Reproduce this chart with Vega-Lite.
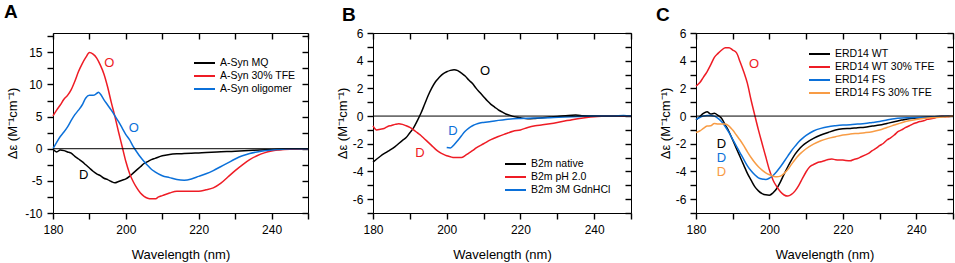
{
  "$schema": "https://vega.github.io/schema/vega-lite/v6.json",
  "background": "white",
  "padding": {"left": 3, "top": 2, "right": 3, "bottom": 2},
  "spacing": 65,
  "bounds": "flush",
  "resolve": {"scale": {"color": "independent"}, "legend": {"color": "independent"}},
  "config": {
    "font": "Liberation Sans",
    "view": {"stroke": "black", "strokeWidth": 1},
    "axis": {
      "domain": false, "grid": false, "ticks": true, "tickColor": "black", "tickOpacity": 1, "tickSize": 6, "tickWidth": 1.4,
      "labelFont": "Liberation Sans", "labelFontSize": 12, "labelColor": "black",
      "titleFont": "Liberation Sans", "titleFontSize": 13, "titleFontWeight": "normal", "titleColor": "black",
      "labelFlush": false, "labelOverlap": false
    },
    "legend": {
      "orient": "none", "title": null, "symbolType": "stroke", "symbolSize": 441, "symbolStrokeWidth": 2,
      "labelFont": "Liberation Sans", "labelFontSize": 10.5, "labelColor": "black", "clipHeight": 11,
      "rowPadding": 2, "labelOffset": 4, "padding": 0
    },
    "title": {"font": "Liberation Sans", "fontSize": 19, "fontWeight": "bold", "color": "black", "anchor": "start", "frame": "group"}
  },
  "datasets": {
    "a": [
      {"s":"A-Syn MQ","w":180,"v":-0.1},{"s":"A-Syn MQ","w":181,"v":-0.5},{"s":"A-Syn MQ","w":182,"v":-0.2},{"s":"A-Syn MQ","w":183,"v":-0.3},{"s":"A-Syn MQ","w":184,"v":-0.5},{"s":"A-Syn MQ","w":185,"v":-0.7},{"s":"A-Syn MQ","w":186,"v":-1.2},{"s":"A-Syn MQ","w":187,"v":-1.6},{"s":"A-Syn MQ","w":188,"v":-2.0},{"s":"A-Syn MQ","w":189,"v":-2.5},{"s":"A-Syn MQ","w":190,"v":-3.0},{"s":"A-Syn MQ","w":191,"v":-3.5},{"s":"A-Syn MQ","w":192,"v":-3.9},{"s":"A-Syn MQ","w":193,"v":-4.2},{"s":"A-Syn MQ","w":194,"v":-4.6},{"s":"A-Syn MQ","w":195,"v":-4.8},{"s":"A-Syn MQ","w":196,"v":-5.1},{"s":"A-Syn MQ","w":197,"v":-5.3},{"s":"A-Syn MQ","w":198,"v":-5.1},{"s":"A-Syn MQ","w":199,"v":-4.9},{"s":"A-Syn MQ","w":200,"v":-4.7},{"s":"A-Syn MQ","w":201,"v":-4.3},{"s":"A-Syn MQ","w":202,"v":-3.8},{"s":"A-Syn MQ","w":203,"v":-3.3},{"s":"A-Syn MQ","w":204,"v":-2.8},{"s":"A-Syn MQ","w":205,"v":-2.3},{"s":"A-Syn MQ","w":206,"v":-2.0},{"s":"A-Syn MQ","w":207,"v":-1.7},{"s":"A-Syn MQ","w":208,"v":-1.5},{"s":"A-Syn MQ","w":210,"v":-1.1},{"s":"A-Syn MQ","w":212,"v":-0.9},{"s":"A-Syn MQ","w":214,"v":-0.8},{"s":"A-Syn MQ","w":216,"v":-0.75},{"s":"A-Syn MQ","w":218,"v":-0.7},{"s":"A-Syn MQ","w":220,"v":-0.65},{"s":"A-Syn MQ","w":222,"v":-0.6},{"s":"A-Syn MQ","w":225,"v":-0.5},{"s":"A-Syn MQ","w":230,"v":-0.4},{"s":"A-Syn MQ","w":235,"v":-0.25},{"s":"A-Syn MQ","w":240,"v":-0.15},{"s":"A-Syn MQ","w":245,"v":-0.05},{"s":"A-Syn MQ","w":250,"v":0},
      {"s":"A-Syn 30% TFE","w":180,"v":5.1},{"s":"A-Syn 30% TFE","w":181,"v":6.0},{"s":"A-Syn 30% TFE","w":182,"v":6.8},{"s":"A-Syn 30% TFE","w":183,"v":7.7},{"s":"A-Syn 30% TFE","w":184,"v":8.3},{"s":"A-Syn 30% TFE","w":185,"v":9.2},{"s":"A-Syn 30% TFE","w":186,"v":10.5},{"s":"A-Syn 30% TFE","w":187,"v":12.0},{"s":"A-Syn 30% TFE","w":188,"v":13.2},{"s":"A-Syn 30% TFE","w":189,"v":14.2},{"s":"A-Syn 30% TFE","w":190,"v":14.95},{"s":"A-Syn 30% TFE","w":191,"v":14.7},{"s":"A-Syn 30% TFE","w":192,"v":14.1},{"s":"A-Syn 30% TFE","w":193,"v":13.0},{"s":"A-Syn 30% TFE","w":194,"v":11.6},{"s":"A-Syn 30% TFE","w":195,"v":9.6},{"s":"A-Syn 30% TFE","w":196,"v":7.2},{"s":"A-Syn 30% TFE","w":197,"v":5.0},{"s":"A-Syn 30% TFE","w":198,"v":2.6},{"s":"A-Syn 30% TFE","w":199,"v":0.3},{"s":"A-Syn 30% TFE","w":200,"v":-2.0},{"s":"A-Syn 30% TFE","w":201,"v":-3.8},{"s":"A-Syn 30% TFE","w":202,"v":-5.1},{"s":"A-Syn 30% TFE","w":203,"v":-6.1},{"s":"A-Syn 30% TFE","w":204,"v":-6.9},{"s":"A-Syn 30% TFE","w":205,"v":-7.4},{"s":"A-Syn 30% TFE","w":206,"v":-7.7},{"s":"A-Syn 30% TFE","w":207,"v":-7.8},{"s":"A-Syn 30% TFE","w":208,"v":-7.8},{"s":"A-Syn 30% TFE","w":209,"v":-7.5},{"s":"A-Syn 30% TFE","w":210,"v":-7.3},{"s":"A-Syn 30% TFE","w":212,"v":-6.9},{"s":"A-Syn 30% TFE","w":214,"v":-6.6},{"s":"A-Syn 30% TFE","w":216,"v":-6.6},{"s":"A-Syn 30% TFE","w":218,"v":-6.6},{"s":"A-Syn 30% TFE","w":220,"v":-6.6},{"s":"A-Syn 30% TFE","w":222,"v":-6.4},{"s":"A-Syn 30% TFE","w":224,"v":-6.1},{"s":"A-Syn 30% TFE","w":226,"v":-5.4},{"s":"A-Syn 30% TFE","w":228,"v":-4.4},{"s":"A-Syn 30% TFE","w":230,"v":-3.4},{"s":"A-Syn 30% TFE","w":232,"v":-2.5},{"s":"A-Syn 30% TFE","w":234,"v":-1.7},{"s":"A-Syn 30% TFE","w":236,"v":-1.1},{"s":"A-Syn 30% TFE","w":238,"v":-0.65},{"s":"A-Syn 30% TFE","w":240,"v":-0.35},{"s":"A-Syn 30% TFE","w":242,"v":-0.2},{"s":"A-Syn 30% TFE","w":245,"v":-0.07},{"s":"A-Syn 30% TFE","w":250,"v":0},
      {"s":"A-Syn oligomer","w":180,"v":0},{"s":"A-Syn oligomer","w":181,"v":1.0},{"s":"A-Syn oligomer","w":182,"v":1.9},{"s":"A-Syn oligomer","w":183,"v":2.6},{"s":"A-Syn oligomer","w":184,"v":3.4},{"s":"A-Syn oligomer","w":185,"v":4.4},{"s":"A-Syn oligomer","w":186,"v":5.3},{"s":"A-Syn oligomer","w":187,"v":6.0},{"s":"A-Syn oligomer","w":188,"v":6.8},{"s":"A-Syn oligomer","w":189,"v":7.9},{"s":"A-Syn oligomer","w":190,"v":8.3},{"s":"A-Syn oligomer","w":191,"v":8.3},{"s":"A-Syn oligomer","w":192,"v":8.6},{"s":"A-Syn oligomer","w":192.5,"v":8.8},{"s":"A-Syn oligomer","w":193,"v":8.5},{"s":"A-Syn oligomer","w":194,"v":7.6},{"s":"A-Syn oligomer","w":195,"v":6.8},{"s":"A-Syn oligomer","w":196,"v":6.0},{"s":"A-Syn oligomer","w":197,"v":5.1},{"s":"A-Syn oligomer","w":198,"v":4.2},{"s":"A-Syn oligomer","w":199,"v":3.2},{"s":"A-Syn oligomer","w":200,"v":2.2},{"s":"A-Syn oligomer","w":201,"v":1.4},{"s":"A-Syn oligomer","w":202,"v":0.35},{"s":"A-Syn oligomer","w":203,"v":-0.5},{"s":"A-Syn oligomer","w":204,"v":-1.3},{"s":"A-Syn oligomer","w":205,"v":-2.0},{"s":"A-Syn oligomer","w":206,"v":-2.6},{"s":"A-Syn oligomer","w":207,"v":-3.2},{"s":"A-Syn oligomer","w":208,"v":-3.6},{"s":"A-Syn oligomer","w":210,"v":-4.2},{"s":"A-Syn oligomer","w":212,"v":-4.5},{"s":"A-Syn oligomer","w":214,"v":-4.8},{"s":"A-Syn oligomer","w":216,"v":-4.9},{"s":"A-Syn oligomer","w":218,"v":-4.7},{"s":"A-Syn oligomer","w":220,"v":-4.3},{"s":"A-Syn oligomer","w":222,"v":-3.9},{"s":"A-Syn oligomer","w":224,"v":-3.4},{"s":"A-Syn oligomer","w":226,"v":-2.8},{"s":"A-Syn oligomer","w":228,"v":-2.2},{"s":"A-Syn oligomer","w":230,"v":-1.6},{"s":"A-Syn oligomer","w":232,"v":-1.1},{"s":"A-Syn oligomer","w":234,"v":-0.75},{"s":"A-Syn oligomer","w":236,"v":-0.5},{"s":"A-Syn oligomer","w":238,"v":-0.3},{"s":"A-Syn oligomer","w":240,"v":-0.2},{"s":"A-Syn oligomer","w":243,"v":-0.08},{"s":"A-Syn oligomer","w":246,"v":0},{"s":"A-Syn oligomer","w":250,"v":0}
    ],
    "a_t": [
      {"s":"A-Syn 30% TFE","w":195.45,"v":13.4,"t":"O"},
      {"s":"A-Syn oligomer","w":202.15,"v":3.2,"t":"O"},
      {"s":"A-Syn MQ","w":188.4,"v":-4.1,"t":"D"}
    ],
    "b": [
      {"s":"B2m native","w":180,"v":-3.33},{"s":"B2m native","w":182,"v":-2.9},{"s":"B2m native","w":184,"v":-2.55},{"s":"B2m native","w":186,"v":-2.2},{"s":"B2m native","w":188,"v":-1.75},{"s":"B2m native","w":189,"v":-1.55},{"s":"B2m native","w":190,"v":-1.2},{"s":"B2m native","w":191,"v":-0.85},{"s":"B2m native","w":192,"v":-0.35},{"s":"B2m native","w":193,"v":0.2},{"s":"B2m native","w":194,"v":0.85},{"s":"B2m native","w":195,"v":1.5},{"s":"B2m native","w":196,"v":2.05},{"s":"B2m native","w":197,"v":2.5},{"s":"B2m native","w":198,"v":2.8},{"s":"B2m native","w":199,"v":3.05},{"s":"B2m native","w":200,"v":3.2},{"s":"B2m native","w":201,"v":3.3},{"s":"B2m native","w":202,"v":3.35},{"s":"B2m native","w":203,"v":3.28},{"s":"B2m native","w":204,"v":3.1},{"s":"B2m native","w":205,"v":2.9},{"s":"B2m native","w":206,"v":2.6},{"s":"B2m native","w":207,"v":2.35},{"s":"B2m native","w":208,"v":2.0},{"s":"B2m native","w":209,"v":1.7},{"s":"B2m native","w":210,"v":1.4},{"s":"B2m native","w":211,"v":1.1},{"s":"B2m native","w":212,"v":0.85},{"s":"B2m native","w":213,"v":0.65},{"s":"B2m native","w":214,"v":0.45},{"s":"B2m native","w":215,"v":0.3},{"s":"B2m native","w":216,"v":0.15},{"s":"B2m native","w":217,"v":0.07},{"s":"B2m native","w":218,"v":-0.02},{"s":"B2m native","w":220,"v":-0.12},{"s":"B2m native","w":222,"v":-0.2},{"s":"B2m native","w":224,"v":-0.17},{"s":"B2m native","w":226,"v":-0.12},{"s":"B2m native","w":228,"v":-0.07},{"s":"B2m native","w":230,"v":-0.03},{"s":"B2m native","w":233,"v":0.05},{"s":"B2m native","w":235,"v":0.07},{"s":"B2m native","w":237,"v":0.03},{"s":"B2m native","w":240,"v":0},{"s":"B2m native","w":245,"v":0},{"s":"B2m native","w":250,"v":0},
      {"s":"B2m pH 2.0","w":180,"v":-0.7},{"s":"B2m pH 2.0","w":181,"v":-1.0},{"s":"B2m pH 2.0","w":182,"v":-0.95},{"s":"B2m pH 2.0","w":183,"v":-0.9},{"s":"B2m pH 2.0","w":184,"v":-0.75},{"s":"B2m pH 2.0","w":185,"v":-0.68},{"s":"B2m pH 2.0","w":186,"v":-0.6},{"s":"B2m pH 2.0","w":187,"v":-0.55},{"s":"B2m pH 2.0","w":188,"v":-0.6},{"s":"B2m pH 2.0","w":189,"v":-0.7},{"s":"B2m pH 2.0","w":190,"v":-0.82},{"s":"B2m pH 2.0","w":191,"v":-1.0},{"s":"B2m pH 2.0","w":192,"v":-1.2},{"s":"B2m pH 2.0","w":193,"v":-1.4},{"s":"B2m pH 2.0","w":194,"v":-1.65},{"s":"B2m pH 2.0","w":195,"v":-1.9},{"s":"B2m pH 2.0","w":196,"v":-2.15},{"s":"B2m pH 2.0","w":197,"v":-2.4},{"s":"B2m pH 2.0","w":198,"v":-2.6},{"s":"B2m pH 2.0","w":199,"v":-2.75},{"s":"B2m pH 2.0","w":200,"v":-2.87},{"s":"B2m pH 2.0","w":201,"v":-2.94},{"s":"B2m pH 2.0","w":202,"v":-3.0},{"s":"B2m pH 2.0","w":203,"v":-3.0},{"s":"B2m pH 2.0","w":204,"v":-3.0},{"s":"B2m pH 2.0","w":205,"v":-2.85},{"s":"B2m pH 2.0","w":206,"v":-2.67},{"s":"B2m pH 2.0","w":207,"v":-2.5},{"s":"B2m pH 2.0","w":208,"v":-2.3},{"s":"B2m pH 2.0","w":210,"v":-2.0},{"s":"B2m pH 2.0","w":212,"v":-1.7},{"s":"B2m pH 2.0","w":214,"v":-1.47},{"s":"B2m pH 2.0","w":216,"v":-1.28},{"s":"B2m pH 2.0","w":218,"v":-1.1},{"s":"B2m pH 2.0","w":220,"v":-1.0},{"s":"B2m pH 2.0","w":222,"v":-0.82},{"s":"B2m pH 2.0","w":224,"v":-0.7},{"s":"B2m pH 2.0","w":226,"v":-0.63},{"s":"B2m pH 2.0","w":228,"v":-0.55},{"s":"B2m pH 2.0","w":230,"v":-0.46},{"s":"B2m pH 2.0","w":232,"v":-0.36},{"s":"B2m pH 2.0","w":234,"v":-0.26},{"s":"B2m pH 2.0","w":236,"v":-0.17},{"s":"B2m pH 2.0","w":238,"v":-0.1},{"s":"B2m pH 2.0","w":240,"v":-0.05},{"s":"B2m pH 2.0","w":242,"v":-0.02},{"s":"B2m pH 2.0","w":245,"v":0},{"s":"B2m pH 2.0","w":250,"v":0},
      {"s":"B2m 3M GdnHCl","w":200,"v":-2.27},{"s":"B2m 3M GdnHCl","w":201,"v":-2.3},{"s":"B2m 3M GdnHCl","w":202,"v":-2.07},{"s":"B2m 3M GdnHCl","w":203,"v":-1.76},{"s":"B2m 3M GdnHCl","w":204,"v":-1.42},{"s":"B2m 3M GdnHCl","w":205,"v":-1.1},{"s":"B2m 3M GdnHCl","w":206,"v":-0.87},{"s":"B2m 3M GdnHCl","w":207,"v":-0.7},{"s":"B2m 3M GdnHCl","w":208,"v":-0.58},{"s":"B2m 3M GdnHCl","w":209,"v":-0.5},{"s":"B2m 3M GdnHCl","w":210,"v":-0.46},{"s":"B2m 3M GdnHCl","w":212,"v":-0.39},{"s":"B2m 3M GdnHCl","w":214,"v":-0.31},{"s":"B2m 3M GdnHCl","w":216,"v":-0.24},{"s":"B2m 3M GdnHCl","w":218,"v":-0.19},{"s":"B2m 3M GdnHCl","w":220,"v":-0.17},{"s":"B2m 3M GdnHCl","w":224,"v":-0.14},{"s":"B2m 3M GdnHCl","w":228,"v":-0.12},{"s":"B2m 3M GdnHCl","w":232,"v":-0.07},{"s":"B2m 3M GdnHCl","w":236,"v":-0.03},{"s":"B2m 3M GdnHCl","w":240,"v":0},{"s":"B2m 3M GdnHCl","w":245,"v":0},{"s":"B2m 3M GdnHCl","w":248,"v":0.05},{"s":"B2m 3M GdnHCl","w":250,"v":0}
    ],
    "b_t": [
      {"s":"B2m native","w":210.4,"v":3.26,"t":"O"},
      {"s":"B2m 3M GdnHCl","w":201.7,"v":-1.05,"t":"D"},
      {"s":"B2m pH 2.0","w":192.75,"v":-2.69,"t":"D"}
    ],
    "c": [
      {"s":"ERD14 WT","w":180,"v":-0.29},{"s":"ERD14 WT","w":181,"v":-0.05},{"s":"ERD14 WT","w":182,"v":0.19},{"s":"ERD14 WT","w":183,"v":0.31},{"s":"ERD14 WT","w":184,"v":0.15},{"s":"ERD14 WT","w":185,"v":0.2},{"s":"ERD14 WT","w":186,"v":0.05},{"s":"ERD14 WT","w":187,"v":-0.17},{"s":"ERD14 WT","w":188,"v":-0.65},{"s":"ERD14 WT","w":189,"v":-1.13},{"s":"ERD14 WT","w":190,"v":-1.73},{"s":"ERD14 WT","w":191,"v":-2.34},{"s":"ERD14 WT","w":192,"v":-2.94},{"s":"ERD14 WT","w":193,"v":-3.54},{"s":"ERD14 WT","w":194,"v":-4.14},{"s":"ERD14 WT","w":195,"v":-4.63},{"s":"ERD14 WT","w":196,"v":-5.1},{"s":"ERD14 WT","w":197,"v":-5.4},{"s":"ERD14 WT","w":198,"v":-5.6},{"s":"ERD14 WT","w":199,"v":-5.69},{"s":"ERD14 WT","w":200,"v":-5.71},{"s":"ERD14 WT","w":201,"v":-5.54},{"s":"ERD14 WT","w":202,"v":-5.23},{"s":"ERD14 WT","w":203,"v":-4.75},{"s":"ERD14 WT","w":204,"v":-4.19},{"s":"ERD14 WT","w":205,"v":-3.66},{"s":"ERD14 WT","w":206,"v":-3.18},{"s":"ERD14 WT","w":207,"v":-2.75},{"s":"ERD14 WT","w":208,"v":-2.41},{"s":"ERD14 WT","w":209,"v":-2.14},{"s":"ERD14 WT","w":210,"v":-1.93},{"s":"ERD14 WT","w":212,"v":-1.61},{"s":"ERD14 WT","w":214,"v":-1.37},{"s":"ERD14 WT","w":216,"v":-1.18},{"s":"ERD14 WT","w":218,"v":-1.01},{"s":"ERD14 WT","w":220,"v":-0.92},{"s":"ERD14 WT","w":222,"v":-0.89},{"s":"ERD14 WT","w":224,"v":-0.84},{"s":"ERD14 WT","w":226,"v":-0.8},{"s":"ERD14 WT","w":228,"v":-0.72},{"s":"ERD14 WT","w":230,"v":-0.65},{"s":"ERD14 WT","w":232,"v":-0.53},{"s":"ERD14 WT","w":234,"v":-0.41},{"s":"ERD14 WT","w":236,"v":-0.29},{"s":"ERD14 WT","w":238,"v":-0.19},{"s":"ERD14 WT","w":240,"v":-0.14},{"s":"ERD14 WT","w":242,"v":-0.1},{"s":"ERD14 WT","w":245,"v":-0.05},{"s":"ERD14 WT","w":250,"v":0},
      {"s":"ERD14 WT 30% TFE","w":180,"v":2.17},{"s":"ERD14 WT 30% TFE","w":181,"v":2.4},{"s":"ERD14 WT 30% TFE","w":182,"v":2.8},{"s":"ERD14 WT 30% TFE","w":183,"v":3.2},{"s":"ERD14 WT 30% TFE","w":184,"v":3.7},{"s":"ERD14 WT 30% TFE","w":185,"v":4.24},{"s":"ERD14 WT 30% TFE","w":186,"v":4.53},{"s":"ERD14 WT 30% TFE","w":187,"v":4.77},{"s":"ERD14 WT 30% TFE","w":188,"v":4.94},{"s":"ERD14 WT 30% TFE","w":189,"v":4.94},{"s":"ERD14 WT 30% TFE","w":190,"v":4.77},{"s":"ERD14 WT 30% TFE","w":191,"v":4.58},{"s":"ERD14 WT 30% TFE","w":192,"v":3.93},{"s":"ERD14 WT 30% TFE","w":193,"v":3.2},{"s":"ERD14 WT 30% TFE","w":194,"v":2.36},{"s":"ERD14 WT 30% TFE","w":195,"v":1.16},{"s":"ERD14 WT 30% TFE","w":196,"v":0.07},{"s":"ERD14 WT 30% TFE","w":197,"v":-1.0},{"s":"ERD14 WT 30% TFE","w":198,"v":-1.98},{"s":"ERD14 WT 30% TFE","w":199,"v":-2.94},{"s":"ERD14 WT 30% TFE","w":200,"v":-3.9},{"s":"ERD14 WT 30% TFE","w":201,"v":-4.63},{"s":"ERD14 WT 30% TFE","w":202,"v":-5.1},{"s":"ERD14 WT 30% TFE","w":203,"v":-5.47},{"s":"ERD14 WT 30% TFE","w":204,"v":-5.7},{"s":"ERD14 WT 30% TFE","w":205,"v":-5.78},{"s":"ERD14 WT 30% TFE","w":206,"v":-5.66},{"s":"ERD14 WT 30% TFE","w":207,"v":-5.4},{"s":"ERD14 WT 30% TFE","w":208,"v":-5.0},{"s":"ERD14 WT 30% TFE","w":209,"v":-4.5},{"s":"ERD14 WT 30% TFE","w":210,"v":-4.02},{"s":"ERD14 WT 30% TFE","w":211,"v":-3.66},{"s":"ERD14 WT 30% TFE","w":212,"v":-3.5},{"s":"ERD14 WT 30% TFE","w":213,"v":-3.37},{"s":"ERD14 WT 30% TFE","w":214,"v":-3.3},{"s":"ERD14 WT 30% TFE","w":215,"v":-3.23},{"s":"ERD14 WT 30% TFE","w":216,"v":-3.13},{"s":"ERD14 WT 30% TFE","w":217,"v":-3.1},{"s":"ERD14 WT 30% TFE","w":218,"v":-3.15},{"s":"ERD14 WT 30% TFE","w":220,"v":-3.18},{"s":"ERD14 WT 30% TFE","w":222,"v":-3.23},{"s":"ERD14 WT 30% TFE","w":223,"v":-3.13},{"s":"ERD14 WT 30% TFE","w":224,"v":-3.06},{"s":"ERD14 WT 30% TFE","w":225,"v":-2.94},{"s":"ERD14 WT 30% TFE","w":226,"v":-2.82},{"s":"ERD14 WT 30% TFE","w":227,"v":-2.7},{"s":"ERD14 WT 30% TFE","w":228,"v":-2.5},{"s":"ERD14 WT 30% TFE","w":229,"v":-2.34},{"s":"ERD14 WT 30% TFE","w":230,"v":-2.14},{"s":"ERD14 WT 30% TFE","w":231,"v":-1.98},{"s":"ERD14 WT 30% TFE","w":232,"v":-1.73},{"s":"ERD14 WT 30% TFE","w":233,"v":-1.57},{"s":"ERD14 WT 30% TFE","w":234,"v":-1.37},{"s":"ERD14 WT 30% TFE","w":235,"v":-1.13},{"s":"ERD14 WT 30% TFE","w":236,"v":-1.0},{"s":"ERD14 WT 30% TFE","w":237,"v":-0.84},{"s":"ERD14 WT 30% TFE","w":238,"v":-0.72},{"s":"ERD14 WT 30% TFE","w":239,"v":-0.58},{"s":"ERD14 WT 30% TFE","w":240,"v":-0.48},{"s":"ERD14 WT 30% TFE","w":241,"v":-0.39},{"s":"ERD14 WT 30% TFE","w":242,"v":-0.34},{"s":"ERD14 WT 30% TFE","w":243,"v":-0.24},{"s":"ERD14 WT 30% TFE","w":244,"v":-0.19},{"s":"ERD14 WT 30% TFE","w":245,"v":-0.14},{"s":"ERD14 WT 30% TFE","w":246,"v":-0.05},{"s":"ERD14 WT 30% TFE","w":247,"v":-0.02},{"s":"ERD14 WT 30% TFE","w":248,"v":-0.05},{"s":"ERD14 WT 30% TFE","w":250,"v":0},
      {"s":"ERD14 FS","w":180,"v":-0.24},{"s":"ERD14 FS","w":181,"v":-0.1},{"s":"ERD14 FS","w":182,"v":0},{"s":"ERD14 FS","w":183,"v":0.05},{"s":"ERD14 FS","w":184,"v":0.05},{"s":"ERD14 FS","w":185,"v":0},{"s":"ERD14 FS","w":186,"v":-0.17},{"s":"ERD14 FS","w":187,"v":-0.41},{"s":"ERD14 FS","w":188,"v":-0.77},{"s":"ERD14 FS","w":189,"v":-1.2},{"s":"ERD14 FS","w":190,"v":-1.69},{"s":"ERD14 FS","w":191,"v":-2.17},{"s":"ERD14 FS","w":192,"v":-2.65},{"s":"ERD14 FS","w":193,"v":-3.13},{"s":"ERD14 FS","w":194,"v":-3.59},{"s":"ERD14 FS","w":195,"v":-3.95},{"s":"ERD14 FS","w":196,"v":-4.24},{"s":"ERD14 FS","w":197,"v":-4.46},{"s":"ERD14 FS","w":198,"v":-4.55},{"s":"ERD14 FS","w":199,"v":-4.58},{"s":"ERD14 FS","w":200,"v":-4.48},{"s":"ERD14 FS","w":201,"v":-4.29},{"s":"ERD14 FS","w":202,"v":-4.0},{"s":"ERD14 FS","w":203,"v":-3.66},{"s":"ERD14 FS","w":204,"v":-3.28},{"s":"ERD14 FS","w":205,"v":-2.89},{"s":"ERD14 FS","w":206,"v":-2.5},{"s":"ERD14 FS","w":207,"v":-2.17},{"s":"ERD14 FS","w":208,"v":-1.86},{"s":"ERD14 FS","w":209,"v":-1.61},{"s":"ERD14 FS","w":210,"v":-1.4},{"s":"ERD14 FS","w":212,"v":-1.08},{"s":"ERD14 FS","w":214,"v":-0.89},{"s":"ERD14 FS","w":216,"v":-0.77},{"s":"ERD14 FS","w":218,"v":-0.7},{"s":"ERD14 FS","w":220,"v":-0.65},{"s":"ERD14 FS","w":222,"v":-0.63},{"s":"ERD14 FS","w":224,"v":-0.58},{"s":"ERD14 FS","w":226,"v":-0.53},{"s":"ERD14 FS","w":228,"v":-0.46},{"s":"ERD14 FS","w":230,"v":-0.39},{"s":"ERD14 FS","w":232,"v":-0.29},{"s":"ERD14 FS","w":234,"v":-0.19},{"s":"ERD14 FS","w":236,"v":-0.14},{"s":"ERD14 FS","w":238,"v":-0.12},{"s":"ERD14 FS","w":240,"v":-0.1},{"s":"ERD14 FS","w":245,"v":-0.05},{"s":"ERD14 FS","w":250,"v":0},
      {"s":"ERD14 FS 30% TFE","w":180,"v":-1.18},{"s":"ERD14 FS 30% TFE","w":181,"v":-1.08},{"s":"ERD14 FS 30% TFE","w":182,"v":-0.89},{"s":"ERD14 FS 30% TFE","w":183,"v":-0.72},{"s":"ERD14 FS 30% TFE","w":184,"v":-0.7},{"s":"ERD14 FS 30% TFE","w":185,"v":-0.53},{"s":"ERD14 FS 30% TFE","w":186,"v":-0.58},{"s":"ERD14 FS 30% TFE","w":187,"v":-0.58},{"s":"ERD14 FS 30% TFE","w":188,"v":-0.58},{"s":"ERD14 FS 30% TFE","w":189,"v":-0.72},{"s":"ERD14 FS 30% TFE","w":190,"v":-1.01},{"s":"ERD14 FS 30% TFE","w":191,"v":-1.37},{"s":"ERD14 FS 30% TFE","w":192,"v":-1.73},{"s":"ERD14 FS 30% TFE","w":193,"v":-2.14},{"s":"ERD14 FS 30% TFE","w":194,"v":-2.58},{"s":"ERD14 FS 30% TFE","w":195,"v":-2.99},{"s":"ERD14 FS 30% TFE","w":196,"v":-3.35},{"s":"ERD14 FS 30% TFE","w":197,"v":-3.66},{"s":"ERD14 FS 30% TFE","w":198,"v":-3.9},{"s":"ERD14 FS 30% TFE","w":199,"v":-4.1},{"s":"ERD14 FS 30% TFE","w":200,"v":-4.24},{"s":"ERD14 FS 30% TFE","w":201,"v":-4.34},{"s":"ERD14 FS 30% TFE","w":202,"v":-4.39},{"s":"ERD14 FS 30% TFE","w":203,"v":-4.34},{"s":"ERD14 FS 30% TFE","w":204,"v":-4.14},{"s":"ERD14 FS 30% TFE","w":205,"v":-3.86},{"s":"ERD14 FS 30% TFE","w":206,"v":-3.49},{"s":"ERD14 FS 30% TFE","w":207,"v":-3.13},{"s":"ERD14 FS 30% TFE","w":208,"v":-2.82},{"s":"ERD14 FS 30% TFE","w":209,"v":-2.58},{"s":"ERD14 FS 30% TFE","w":210,"v":-2.36},{"s":"ERD14 FS 30% TFE","w":212,"v":-2.02},{"s":"ERD14 FS 30% TFE","w":214,"v":-1.78},{"s":"ERD14 FS 30% TFE","w":216,"v":-1.61},{"s":"ERD14 FS 30% TFE","w":218,"v":-1.49},{"s":"ERD14 FS 30% TFE","w":220,"v":-1.37},{"s":"ERD14 FS 30% TFE","w":222,"v":-1.3},{"s":"ERD14 FS 30% TFE","w":224,"v":-1.25},{"s":"ERD14 FS 30% TFE","w":226,"v":-1.2},{"s":"ERD14 FS 30% TFE","w":228,"v":-1.13},{"s":"ERD14 FS 30% TFE","w":230,"v":-1.01},{"s":"ERD14 FS 30% TFE","w":232,"v":-0.82},{"s":"ERD14 FS 30% TFE","w":234,"v":-0.65},{"s":"ERD14 FS 30% TFE","w":236,"v":-0.48},{"s":"ERD14 FS 30% TFE","w":238,"v":-0.34},{"s":"ERD14 FS 30% TFE","w":240,"v":-0.24},{"s":"ERD14 FS 30% TFE","w":242,"v":-0.17},{"s":"ERD14 FS 30% TFE","w":245,"v":-0.1},{"s":"ERD14 FS 30% TFE","w":248,"v":-0.05},{"s":"ERD14 FS 30% TFE","w":250,"v":0}
    ],
    "c_t": [
      {"s":"ERD14 WT 30% TFE","w":195.8,"v":3.74,"t":"O"},
      {"s":"ERD14 WT","w":186.9,"v":-2.04,"t":"D"},
      {"s":"ERD14 FS","w":186.9,"v":-3.05,"t":"D"},
      {"s":"ERD14 FS 30% TFE","w":186.9,"v":-4.06,"t":"D"}
    ]
  },
  "hconcat": [
    {
      "width": 255, "height": 180,
      "title": {"text": "A", "dx": -49, "offset": 8},
      "resolve": {"axis": {"x": "independent", "y": "independent"}},
      "layer": [
        {
          "data": {"name": "a"},
          "mark": {"type": "line", "strokeWidth": 1.5, "interpolate": "monotone"},
          "encoding": {
            "x": {"field": "w", "type": "quantitative", "scale": {"domain": [180, 250], "nice": false, "zero": false},
              "axis": {"values": [180,190,200,210,220,230,240,250], "labelExpr": "datum.value % 20 == 0 ? '' + datum.value : ''", "title": "Wavelength (nm)", "labelPadding": 5, "titlePadding": 13}},
            "y": {"field": "v", "type": "quantitative", "scale": {"domain": [-10, 18], "nice": false, "zero": false},
              "axis": {"values": [-10,-7.5,-5,-2.5,0,2.5,5,7.5,10,12.5,15,17.5], "labelExpr": "datum.value % 5 == 0 ? '' + datum.value : ''", "title": "Δε (M⁻¹cm⁻¹)", "labelPadding": 5, "titlePadding": 5}},
            "color": {"field": "s", "type": "nominal",
              "scale": {"domain": ["A-Syn MQ", "A-Syn 30% TFE", "A-Syn oligomer"], "range": ["#000000", "#ee1c25", "#0b70d9"]},
              "legend": {"legendX": 140, "legendY": 24.5}}
          }
        },
        {
          "data": {"values": [{}]},
          "mark": {"type": "rule", "color": "black", "strokeWidth": 1},
          "encoding": {
            "x": {"datum": 180, "type": "quantitative", "axis": {"orient": "top", "values": [180,190,200,210,220,230,240,250], "labels": false, "tickSize": -6, "title": null}},
            "x2": {"datum": 250},
            "y": {"datum": 0, "type": "quantitative", "axis": {"orient": "right", "values": [-10,-7.5,-5,-2.5,0,2.5,5,7.5,10,12.5,15,17.5], "labels": false, "tickSize": -6, "title": null}}
          }
        },
        {
          "data": {"name": "a_t"},
          "mark": {"type": "text", "fontSize": 13, "font": "Liberation Sans"},
          "encoding": {
            "x": {"field": "w", "type": "quantitative", "axis": null},
            "y": {"field": "v", "type": "quantitative", "axis": null},
            "text": {"field": "t"},
            "color": {"field": "s", "type": "nominal", "legend": null}
          }
        }
      ]
    },
    {
      "width": 258, "height": 180,
      "title": {"text": "B", "dx": -31, "offset": 2},
      "resolve": {"axis": {"x": "independent", "y": "independent"}},
      "layer": [
        {
          "data": {"name": "b"},
          "mark": {"type": "line", "strokeWidth": 1.5, "interpolate": "monotone"},
          "encoding": {
            "x": {"field": "w", "type": "quantitative", "scale": {"domain": [180, 250], "nice": false, "zero": false},
              "axis": {"values": [180,190,200,210,220,230,240,250], "labelExpr": "datum.value % 20 == 0 ? '' + datum.value : ''", "title": "Wavelength (nm)", "labelPadding": 5, "titlePadding": 13}},
            "y": {"field": "v", "type": "quantitative", "scale": {"domain": [-7, 6], "nice": false, "zero": false},
              "axis": {"values": [-7,-6,-5,-4,-3,-2,-1,0,1,2,3,4,5,6], "labelExpr": "datum.value % 2 == 0 ? '' + datum.value : ''", "title": "Δε (M⁻¹cm⁻¹)", "labelPadding": 4, "titlePadding": 3}},
            "color": {"field": "s", "type": "nominal",
              "scale": {"domain": ["B2m native", "B2m pH 2.0", "B2m 3M GdnHCl"], "range": ["#000000", "#ee1c25", "#0b70d9"]},
              "legend": {"legendX": 131, "legendY": 125.5}}
          }
        },
        {
          "data": {"values": [{}]},
          "mark": {"type": "rule", "color": "black", "strokeWidth": 1},
          "encoding": {
            "x": {"datum": 180, "type": "quantitative", "axis": {"orient": "top", "values": [180,190,200,210,220,230,240,250], "labels": false, "tickSize": -6, "title": null}},
            "x2": {"datum": 250},
            "y": {"datum": 0, "type": "quantitative", "axis": {"orient": "right", "values": [-7,-6,-5,-4,-3,-2,-1,0,1,2,3,4,5,6], "labels": false, "tickSize": -6, "title": null}}
          }
        },
        {
          "data": {"name": "b_t"},
          "mark": {"type": "text", "fontSize": 13, "font": "Liberation Sans"},
          "encoding": {
            "x": {"field": "w", "type": "quantitative", "axis": null},
            "y": {"field": "v", "type": "quantitative", "axis": null},
            "text": {"field": "t"},
            "color": {"field": "s", "type": "nominal", "legend": null}
          }
        }
      ]
    },
    {
      "width": 257, "height": 180,
      "title": {"text": "C", "dx": -40, "offset": 2},
      "resolve": {"axis": {"x": "independent", "y": "independent"}},
      "layer": [
        {
          "data": {"name": "c"},
          "mark": {"type": "line", "strokeWidth": 1.5, "interpolate": "monotone"},
          "encoding": {
            "x": {"field": "w", "type": "quantitative", "scale": {"domain": [180, 250], "nice": false, "zero": false},
              "axis": {"values": [180,190,200,210,220,230,240,250], "labelExpr": "datum.value % 20 == 0 ? '' + datum.value : ''", "title": "Wavelength (nm)", "labelPadding": 5, "titlePadding": 13}},
            "y": {"field": "v", "type": "quantitative", "scale": {"domain": [-7, 6], "nice": false, "zero": false},
              "axis": {"values": [-7,-6,-5,-4,-3,-2,-1,0,1,2,3,4,5,6], "labelExpr": "datum.value % 2 == 0 ? '' + datum.value : ''", "title": "Δε (M⁻¹cm⁻¹)", "labelPadding": 4, "titlePadding": 3}},
            "color": {"field": "s", "type": "nominal",
              "scale": {"domain": ["ERD14 WT", "ERD14 WT 30% TFE", "ERD14 FS", "ERD14 FS 30% TFE"], "range": ["#000000", "#ee1c25", "#0b70d9", "#f89c45"]},
              "legend": {"legendX": 112, "legendY": 15.5}}
          }
        },
        {
          "data": {"values": [{}]},
          "mark": {"type": "rule", "color": "black", "strokeWidth": 1},
          "encoding": {
            "x": {"datum": 180, "type": "quantitative", "axis": {"orient": "top", "values": [180,190,200,210,220,230,240,250], "labels": false, "tickSize": -6, "title": null}},
            "x2": {"datum": 250},
            "y": {"datum": 0, "type": "quantitative", "axis": {"orient": "right", "values": [-7,-6,-5,-4,-3,-2,-1,0,1,2,3,4,5,6], "labels": false, "tickSize": -6, "title": null}}
          }
        },
        {
          "data": {"name": "c_t"},
          "mark": {"type": "text", "fontSize": 13, "font": "Liberation Sans"},
          "encoding": {
            "x": {"field": "w", "type": "quantitative", "axis": null},
            "y": {"field": "v", "type": "quantitative", "axis": null},
            "text": {"field": "t"},
            "color": {"field": "s", "type": "nominal", "legend": null}
          }
        }
      ]
    }
  ]
}
